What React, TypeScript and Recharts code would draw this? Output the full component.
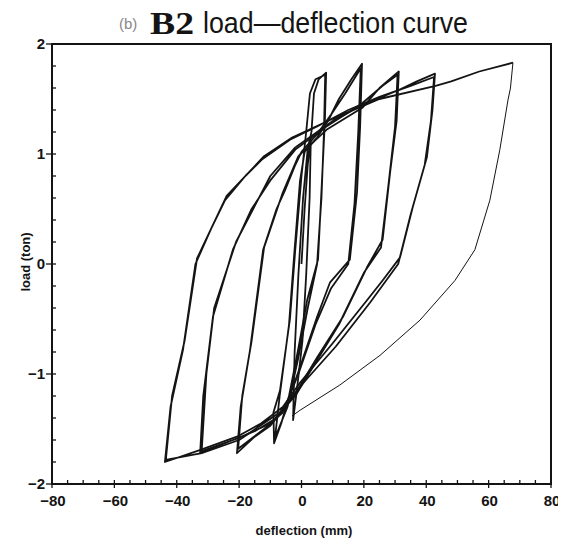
import { LineChart, Line, XAxis, YAxis, ReferenceArea } from 'recharts'

// tick values
const X_TICKS = [
  -80, -75, -70, -65, -60, -55, -50, -45, -40, -35, -30, -25, -20, -15, -10, -5, 0,
  5, 10, 15, 20, 25, 30, 35, 40, 45, 50, 55, 60, 65, 70, 75, 80,
]
const X_LABELS = [-80, -60, -40, -20, 0, 20, 40, 60, 80]
const Y_TICKS = [
  -2, -1.8, -1.6, -1.4, -1.2, -1, -0.8, -0.6, -0.4, -0.2, 0,
  0.2, 0.4, 0.6, 0.8, 1, 1.2, 1.4, 1.6, 1.8, 2,
]
const Y_LABELS = [-2, -1, 0, 1, 2]

// [deflection mm, load ton], in test order
const smallCycle = [
  [0, 0], [1, 0.5], [2, 0.9], [3, 1.15], [2.6, 0.6], [1.5, -0.1], [0.3, -0.7],
  [-1.5, -1.15], [-2.7, -1.42], [-2.2, -0.8], [-1, -0.1], [0.5, 0.6], [2, 1.05], [3.2, 1.2],
]
const cycle1 = [
  [3.2, 1.2], [4, 1.55], [5.5, 1.68], [7.9, 1.74], [7.5, 1.3], [6.9, 0.95], [5.3, 0.04],
  [1.8, -0.33], [-1.1, -0.78], [-4, -1.2], [-6.5, -1.45], [-8.8, -1.63], [-9, -1.35],
  [-6.9, -1.15], [-3.7, -0.5], [-2, 0.13], [0, 0.8], [1.5, 1.2], [2.7, 1.55], [4.5, 1.68],
  [7.6, 1.72], [7.2, 1.2], [6.4, 0.6], [5, 0], [2, -0.4], [-1, -0.85], [-4.5, -1.3],
  [-8.5, -1.58], [-7, -1.2], [-4, -0.55], [-2.3, 0.1], [-0.5, 0.75], [1, 1.02],
]
const cycle2 = [
  [1, 1.02], [5, 1.15], [8.5, 1.3], [12, 1.5], [16, 1.68], [19.4, 1.82], [18.8, 1.25],
  [17.8, 0.65], [15.5, 0.04], [9.1, -0.17], [5, -0.48], [-0.5, -0.94], [-5, -1.3],
  [-10, -1.47], [-15, -1.57], [-20.7, -1.72], [-19.5, -1.3], [-16.5, -0.78], [-12.3, 0.13],
  [-8, 0.5], [-5.3, 0.67], [-2, 0.9], [0, 1.02], [5, 1.18], [10, 1.38], [14, 1.55],
  [19, 1.78], [18.2, 1.2], [17, 0.55], [15, 0], [9.5, -0.22], [4.5, -0.55], [-1, -1.0],
  [-6, -1.35], [-12, -1.5], [-20.3, -1.68], [-19, -1.2], [-16, -0.7], [-12, 0.15],
  [-6, 0.65], [-1, 0.98],
]
const cycle3 = [
  [-1, 0.98], [8, 1.22], [19.5, 1.42], [25, 1.6], [31.2, 1.75], [30.5, 1.3], [28.4, 0.83],
  [26, 0.22], [21, -0.03], [13.3, -0.48], [5, -0.85], [-1.4, -1.15], [-8, -1.4],
  [-15, -1.52], [-22, -1.6], [-28, -1.67], [-32.5, -1.72], [-31.5, -1.2], [-28.4, -0.48],
  [-22, 0.13], [-16, 0.5], [-10, 0.76], [-2, 1.04], [8, 1.25], [19, 1.45], [26, 1.62],
  [30.8, 1.72], [30, 1.25], [28, 0.75], [25.5, 0.15], [20, -0.08], [12, -0.55], [4, -0.92],
  [-2, -1.2], [-10, -1.45], [-20, -1.58], [-32, -1.7], [-30.5, -1.0], [-28, -0.4],
  [-21, 0.2], [-10, 0.8], [-2, 1.06],
]
const cycle4 = [
  [-2, 1.06], [10, 1.3], [20, 1.45], [31, 1.58], [37, 1.66], [42.8, 1.73], [42, 1.4],
  [40.2, 0.97], [35.7, 0.52], [31.6, 0.06], [26, -0.15], [21, -0.33], [10, -0.72],
  [-0.5, -1.08], [-6, -1.3], [-13, -1.45], [-20.7, -1.57], [-32.4, -1.69], [-43.8, -1.8],
  [-42, -1.3], [-38, -0.78], [-34, 0], [-29, 0.32], [-24.5, 0.58], [-18, 0.8],
  [-12.7, 0.95], [-3.7, 1.13], [5, 1.25], [15, 1.4], [25, 1.52], [35, 1.62], [42.5, 1.7],
  [41.5, 1.3], [39.5, 0.9], [35, 0.45], [31, 0], [22, -0.35], [11, -0.75], [0, -1.1],
  [-7, -1.35], [-20, -1.6], [-32, -1.72], [-43.5, -1.78], [-41.5, -1.2], [-37.5, -0.7],
  [-33.5, 0.05], [-24, 0.62], [-12, 0.98], [-3, 1.15], [10, 1.32], [25, 1.5], [43, 1.62],
  [48, 1.66], [57, 1.75], [67.8, 1.83],
]
const finalUnload = [
  [67.8, 1.83], [67, 1.6], [66.2, 1.49], [63.6, 1.04], [60.4, 0.58], [55.6, 0.13],
  [49.2, -0.15], [38, -0.51], [25.2, -0.83], [12.3, -1.1], [-0.5, -1.33], [-3, -1.38],
]

const INK = '#141414'
const SANS = 'Liberation Sans, Arial, sans-serif'
const toPts = (a: number[][]) => a.map(([x, y]) => ({ x, y }))
const fmt = (v: number) => (v < 0 ? '\u2212' + Math.abs(v) : String(v))

function XTick(props: any) {
  const { x, y, payload } = props
  const major = X_LABELS.includes(payload.value)
  return (
    <g>
      <line x1={x} x2={x} y1={y - 4} y2={major ? y + 4 : y} stroke={INK} strokeWidth={1.3} />
      {major && (
        <text x={x + 1} y={y + 22} textAnchor="middle" fontSize={15} fontWeight={700}
          fontFamily={SANS} fill={INK}>
          {fmt(payload.value)}
        </text>
      )}
    </g>
  )
}

function YTick(props: any) {
  const { x, y, payload } = props
  const major = Y_LABELS.includes(payload.value)
  return (
    <g>
      <line x1={major ? x - 6 : x} x2={x + 4} y1={y} y2={y} stroke={INK} strokeWidth={1.3} />
      {major && (
        <text x={x - 7} y={y + 5} textAnchor="end" fontSize={15} fontWeight={700}
          fontFamily={SANS} fill={INK}>
          {fmt(payload.value)}
        </text>
      )}
    </g>
  )
}

const loops = [smallCycle, cycle1, cycle2, cycle3, cycle4]

export default function App() {
  return (
    <div style={{ position: 'relative', width: 558, height: 534, background: '#fff' }}>
      <style>{'html,body{overflow:hidden} .recharts-surface{overflow:visible}'}</style>
      <LineChart width={558} height={534} margin={{ top: 36, right: 15, bottom: 0, left: 0 }}>
        <XAxis type="number" dataKey="x" domain={[-80, 80]} ticks={X_TICKS} interval={0}
          tick={<XTick />} tickLine={false} tickSize={0} tickMargin={0} height={58}
          axisLine={{ stroke: INK, strokeWidth: 2 }} />
        <YAxis type="number" dataKey="y" domain={[-2, 2]} ticks={Y_TICKS} interval={0}
          tick={<YTick />} tickLine={false} tickSize={0} tickMargin={0} width={44}
          axisLine={{ stroke: INK, strokeWidth: 2 }} />
        <ReferenceArea x1={-80} x2={80} y1={-2} y2={2} fill="none" stroke={INK}
          strokeWidth={2} ifOverflow="visible" />
        {loops.map((loop, i) => (
          <Line key={i} data={toPts(loop)} dataKey="y" type="linear" dot={false}
            stroke={INK} strokeWidth={1.8} strokeLinejoin="round" isAnimationActive={false} />
        ))}
        <Line data={toPts(finalUnload)} dataKey="y" type="linear" dot={false}
          stroke={INK} strokeWidth={1} isAnimationActive={false} />
      </LineChart>
      <svg width={566} height={550}
        style={{ position: 'absolute', left: -8, top: -8, pointerEvents: 'none' }}>
        <text x={119} y={29} fontSize={15} fill="#888" fontFamily={SANS}>(b)</text>
        <text x={150} y={34} fontSize={31} fontWeight={700} fill={INK}
          fontFamily="Liberation Serif, Times New Roman, serif" textLength={44}
          lengthAdjust="spacingAndGlyphs">B2</text>
        <text x={203} y={33} fontSize={30} fill={INK} fontFamily={SANS}
          textLength={265} lengthAdjust="spacingAndGlyphs">load—deflection curve</text>
        <text x={0} y={0} transform="translate(30 262) rotate(-90)" textAnchor="middle"
          fontSize={13} fontWeight={700} fill={INK} fontFamily={SANS}>load (ton)</text>
        <text x={304} y={535} textAnchor="middle" fontSize={13} fontWeight={700} fill={INK}
          fontFamily={SANS}>deflection (mm)</text>
      </svg>
    </div>
  )
}
